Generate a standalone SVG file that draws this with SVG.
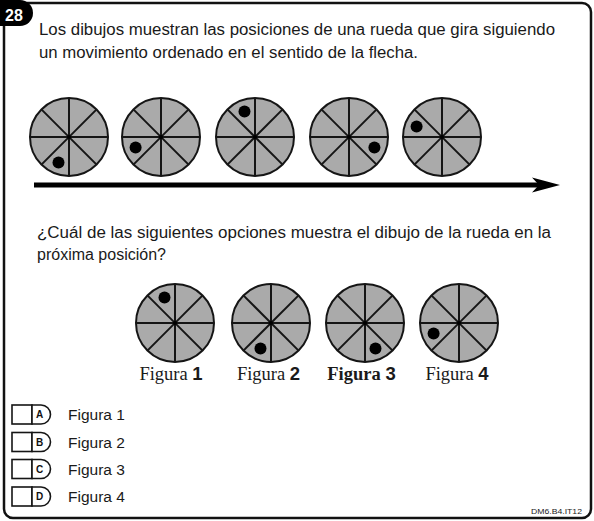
<svg xmlns="http://www.w3.org/2000/svg" xmlns:xlink="http://www.w3.org/1999/xlink" width="594" height="521" viewBox="0 0 594 521">
<style>
.txt{font-family:"Liberation Sans",Arial,sans-serif;fill:#1a1a1a}
.fig{font-family:"Liberation Serif","Times New Roman",serif;fill:#1a1a1a;font-size:18.5px}
.num{font-family:"Liberation Sans",Arial,sans-serif;font-weight:bold}
.wheel{fill:#aaaaaa;stroke:#151515;stroke-width:2}
.spoke{stroke:#151515;stroke-width:2}
.dot{fill:#000}
.box{fill:#fff;stroke:#151515;stroke-width:1.6}
.let{font-family:"Liberation Sans",Arial,sans-serif;font-weight:bold;font-size:10px;fill:#111}
</style>
<defs>
<g id="wheelShape">
<circle class="wheel" cx="0" cy="0" r="39"/>
<line class="spoke" x1="-39" y1="0" x2="39" y2="0"/>
<line class="spoke" x1="0" y1="-39" x2="0" y2="39"/>
<line class="spoke" x1="-27.6" y1="-27.6" x2="27.6" y2="27.6"/>
<line class="spoke" x1="-27.6" y1="27.6" x2="27.6" y2="-27.6"/>
<circle class="dot" cx="0" cy="0" r="2"/>
</g>
<g id="optBox">
<rect class="box" x="0" y="-9.5" width="20" height="19"/>
<path class="box" d="M20,-9.5 H29 A9.5,9.5 0 0 1 29,9.5 H20 Z"/>
</g>
</defs>

<rect x="4" y="3" width="587" height="515" rx="9" fill="#fff" stroke="#111" stroke-width="2.5"/>
<path d="M0,0 H20 A13,13 0 0 1 20,26 H0 Z" fill="#000"/>
<text x="5" y="20.5" font-family="Liberation Sans,Arial,sans-serif" font-weight="bold" font-size="16" fill="#fff">28</text>

<g id="heading">
<text class="txt" x="39" y="35" font-size="16" textLength="516" lengthAdjust="spacingAndGlyphs">Los dibujos muestran las posiciones de una rueda que gira siguiendo</text>
<text class="txt" x="39" y="57.5" font-size="16" textLength="379" lengthAdjust="spacingAndGlyphs">un movimiento ordenado en el sentido de la flecha.</text>
</g>

<g id="sequence">
<g id="w1"><use xlink:href="#wheelShape" x="69" y="137"/><circle class="dot" cx="58.5" cy="162.4" r="6"/></g>
<g id="w2"><use xlink:href="#wheelShape" x="161" y="137"/><circle class="dot" cx="135.6" cy="147.5" r="6"/></g>
<g id="w3"><use xlink:href="#wheelShape" x="255" y="137"/><circle class="dot" cx="244.5" cy="111.6" r="6"/></g>
<g id="w4"><use xlink:href="#wheelShape" x="349" y="137"/><circle class="dot" cx="374.4" cy="147.5" r="6"/></g>
<g id="w5"><use xlink:href="#wheelShape" x="442" y="137"/><circle class="dot" cx="416.6" cy="126.5" r="6"/></g>
</g>

<g id="connectors">
<line x1="34" y1="185" x2="540" y2="185" stroke="#000" stroke-width="5"/>
<path d="M560,185 L532,177.5 L539,185 L532,192.5 Z" fill="#000"/>
</g>

<g id="question">
<text class="txt" x="37" y="238" font-size="16" textLength="514" lengthAdjust="spacingAndGlyphs">¿Cuál de las siguientes opciones muestra el dibujo de la rueda en la</text>
<text class="txt" x="37" y="260" font-size="16">próxima posición?</text>
</g>

<g id="fig1"><use xlink:href="#wheelShape" x="175" y="323"/><circle class="dot" cx="164.5" cy="297.6" r="6"/>
<text class="fig" x="171" y="380" text-anchor="middle">Figura <tspan class="num">1</tspan></text></g>
<g id="fig2"><use xlink:href="#wheelShape" x="271" y="323"/><circle class="dot" cx="260.5" cy="348.4" r="6"/>
<text class="fig" x="268.5" y="380" text-anchor="middle">Figura <tspan class="num">2</tspan></text></g>
<g id="fig3"><use xlink:href="#wheelShape" x="365" y="323"/><circle class="dot" cx="375.5" cy="348.4" r="6"/>
<text class="fig" x="361.5" y="380" text-anchor="middle" font-weight="bold">Figura <tspan class="num">3</tspan></text></g>
<g id="fig4"><use xlink:href="#wheelShape" x="459" y="323"/><circle class="dot" cx="433.6" cy="333.5" r="6"/>
<text class="fig" x="457" y="380" text-anchor="middle">Figura <tspan class="num">4</tspan></text></g>

<g id="optA"><use xlink:href="#optBox" x="12" y="414.5"/><text class="let" x="39.5" y="418" text-anchor="middle">A</text>
<text class="txt" x="68" y="420" font-size="15.5">Figura 1</text></g>
<g id="optB"><use xlink:href="#optBox" x="12" y="442"/><text class="let" x="39.5" y="445.5" text-anchor="middle">B</text>
<text class="txt" x="68" y="447.5" font-size="15.5">Figura 2</text></g>
<g id="optC"><use xlink:href="#optBox" x="12" y="469"/><text class="let" x="39.5" y="472.5" text-anchor="middle">C</text>
<text class="txt" x="68" y="474.5" font-size="15.5">Figura 3</text></g>
<g id="optD"><use xlink:href="#optBox" x="12" y="496.5"/><text class="let" x="39.5" y="500" text-anchor="middle">D</text>
<text class="txt" x="68" y="502" font-size="15.5">Figura 4</text></g>

<text class="txt" x="531" y="514" font-size="8" textLength="51" lengthAdjust="spacingAndGlyphs">DM6.B4.IT12</text>
</svg>
